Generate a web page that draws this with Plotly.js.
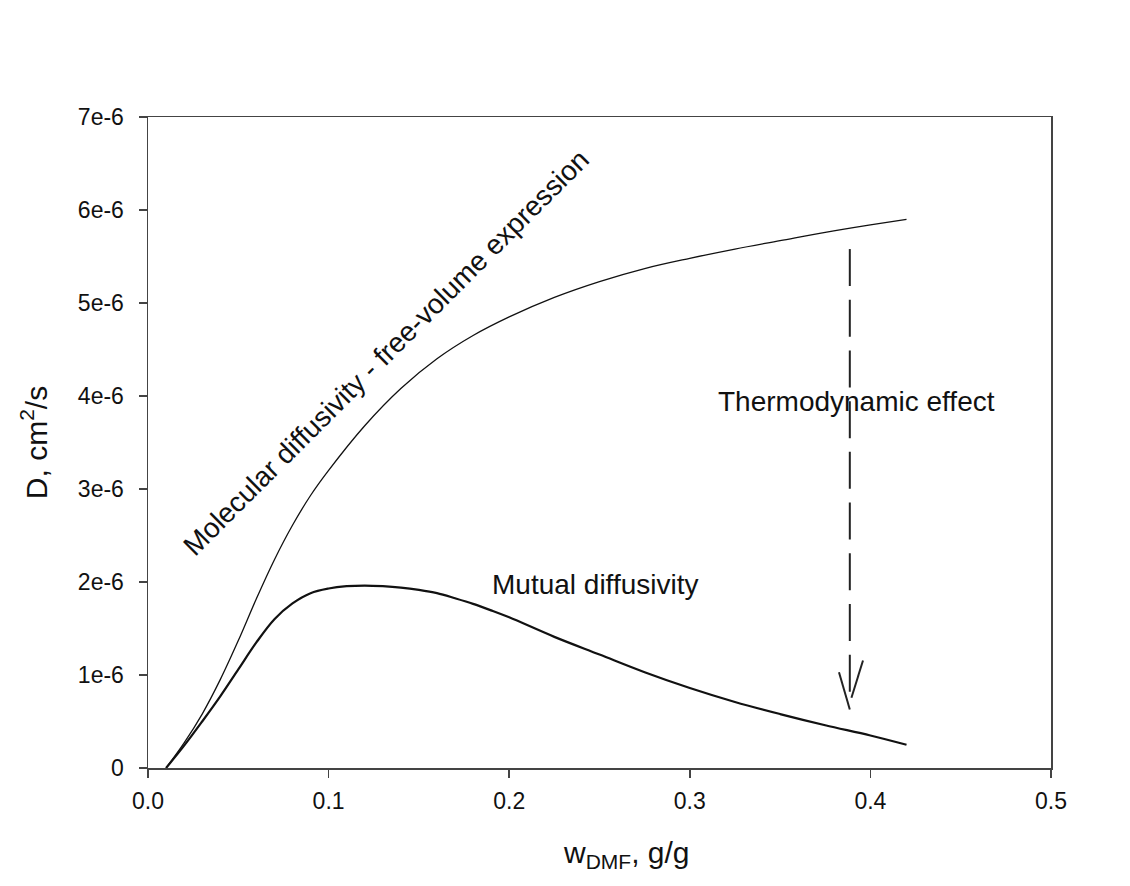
<!DOCTYPE html>
<html>
<head>
<meta charset="utf-8">
<script src="https://cdn.plot.ly/plotly-3.0.1.min.js"></script>
<style>html,body{margin:0;padding:0;background:#fff;}#chart{width:1130px;height:886px;}</style>
</head>
<body>
<div id="chart"></div>
<script>
// Molecular diffusivity (free-volume expression)
const molX = [0.010,0.020,0.030,0.040,0.050,0.060,0.070,0.080,0.090,0.100,0.120,0.140,0.160,0.180,0.200,0.225,0.250,0.275,0.300,0.325,0.350,0.375,0.400,0.420];
const molY = [0,0.27e-6,0.58e-6,0.95e-6,1.37e-6,1.82e-6,2.24e-6,2.61e-6,2.93e-6,3.20e-6,3.68e-6,4.08e-6,4.40e-6,4.65e-6,4.85e-6,5.06e-6,5.23e-6,5.37e-6,5.48e-6,5.58e-6,5.67e-6,5.76e-6,5.84e-6,5.90e-6];
// Mutual diffusivity
const mutX = [0.010,0.020,0.030,0.040,0.050,0.060,0.070,0.080,0.090,0.100,0.110,0.120,0.130,0.140,0.150,0.160,0.170,0.180,0.190,0.200,0.225,0.250,0.275,0.300,0.325,0.350,0.375,0.400,0.420];
const mutY = [0,0.24e-6,0.50e-6,0.77e-6,1.06e-6,1.35e-6,1.60e-6,1.77e-6,1.88e-6,1.93e-6,1.955e-6,1.962e-6,1.955e-6,1.94e-6,1.915e-6,1.88e-6,1.825e-6,1.765e-6,1.695e-6,1.62e-6,1.41e-6,1.22e-6,1.03e-6,0.86e-6,0.71e-6,0.58e-6,0.46e-6,0.35e-6,0.25e-6];

const yTickVals = [0,1e-6,2e-6,3e-6,4e-6,5e-6,6e-6,7e-6];
const yTickText = ['0','1e-6','2e-6','3e-6','4e-6','5e-6','6e-6','7e-6'];
const xTickVals = [0.0,0.1,0.2,0.3,0.4,0.5];

const FONT = 'Liberation Sans, Arial, sans-serif';

const traces = [
  {x: molX, y: molY, mode: 'lines', line: {color: '#111', width: 1.3, shape: 'spline', smoothing: 1}, hoverinfo: 'skip'},
  {x: mutX, y: mutY, mode: 'lines', line: {color: '#111', width: 2.2, shape: 'spline', smoothing: 1}, hoverinfo: 'skip'}
];

const layout = {
  width: 1130, height: 886,
  margin: {l: 147.5, r: 78.5, t: 117, b: 117.5},
  paper_bgcolor: '#fff', plot_bgcolor: '#fff',
  showlegend: false,
  font: {family: FONT, color: '#111'},
  xaxis: {
    range: [0, 0.5], tickvals: xTickVals, tickformat: '.1f',
    showgrid: false, zeroline: false,
    showline: true, mirror: true, linecolor: '#444', linewidth: 1.5,
    ticks: 'outside', ticklen: 8, tickwidth: 1.5, tickcolor: '#444',
    ticklabelstandoff: 4,
    tickfont: {size: 23, family: FONT, color: '#111'}
  },
  yaxis: {
    range: [0, 7e-6], tickvals: yTickVals, ticktext: yTickText,
    showgrid: false, zeroline: false,
    showline: true, mirror: true, linecolor: '#444', linewidth: 1.5,
    ticks: 'outside', ticklen: 8, tickwidth: 1.5, tickcolor: '#444',
    ticklabelstandoff: 10,
    tickfont: {size: 23, family: FONT, color: '#111'},
    title: {text: 'D, cm<sup>2</sup>/s', font: {size: 30, family: FONT, color: '#111'}, standoff: 21}
  },
  annotations: [
    {x: 0.5304, y: -0.1328, xref: 'paper', yref: 'paper', xanchor: 'center', yanchor: 'middle', text: 'w<sub>DMF</sub>, g/g', showarrow: false, font: {size: 30, family: FONT, color: '#111'}},
    {x: 0.1319, y: 4.47e-6, xref: 'x', yref: 'y', text: 'Molecular diffusivity - free-volume expression', showarrow: false, textangle: -45, font: {size: 28, family: FONT, color: '#111'}},
    {x: 0.2475, y: 1.97e-6, xref: 'x', yref: 'y', text: 'Mutual diffusivity', showarrow: false, font: {size: 28, family: FONT, color: '#111'}},
    {x: 0.3924, y: 3.94e-6, xref: 'x', yref: 'y', text: 'Thermodynamic effect', showarrow: false, font: {size: 28, family: FONT, color: '#111'}}
  ],
  shapes: [
    {type: 'line', xref: 'x', yref: 'y', x0: 0.3886, y0: 5.58e-6, x1: 0.3886, y1: 0.82e-6, line: {color: '#222', width: 2, dash: '37px,13.7px'}},
    {type: 'line', xref: 'x', yref: 'y', x0: 0.3826, y0: 1.03e-6, x1: 0.3886, y1: 0.63e-6, line: {color: '#222', width: 2}},
    {type: 'line', xref: 'x', yref: 'y', x0: 0.3959, y0: 1.156e-6, x1: 0.3895, y1: 0.755e-6, line: {color: '#222', width: 2}}
  ]
};

Plotly.newPlot('chart', traces, layout, {staticPlot: true, displayModeBar: false});
</script>
</body>
</html>
